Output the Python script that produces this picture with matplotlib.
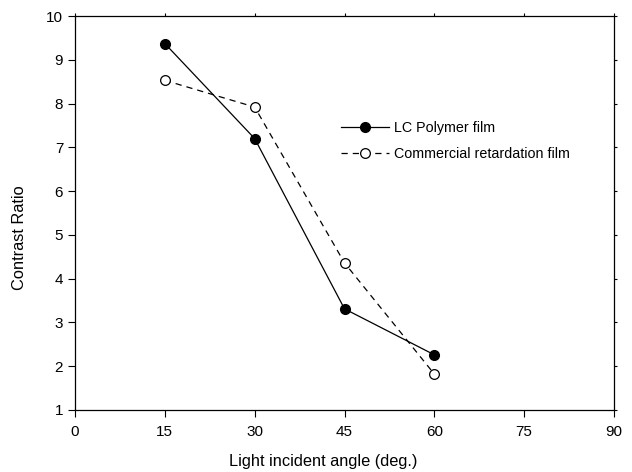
import matplotlib.pyplot as plt

plt.rcParams['font.family'] = ['Liberation Sans', 'DejaVu Sans']

angles = [15, 30, 45, 60]
lc_polymer = [9.37, 7.2, 3.31, 2.26]
commercial = [8.53, 7.92, 4.36, 1.82]

fig = plt.figure(figsize=(6.32, 4.72), dpi=100)
ax = fig.add_axes([0.1187, 0.1314, 0.8528, 0.8347])

ax.plot(angles, lc_polymer, color='black', linestyle='-', linewidth=0.9,
        marker='o', markersize=7, markerfacecolor='black', markeredgecolor='black',
        label='LC Polymer film')
ax.plot(angles, commercial, color='black', linestyle=(0, (5, 4)), linewidth=0.9,
        marker='o', markersize=7, markerfacecolor='white', markeredgecolor='black',
        markeredgewidth=0.9, label='Commercial retardation film')

ax.set_xlim(0, 90)
ax.set_ylim(1, 10)
ax.set_xticks(range(0, 91, 15))
ax.set_yticks(range(1, 11))
ax.tick_params(axis='both', labelsize=11, direction='out', length=5, width=0.8)
ax.tick_params(top=True, right=True, labeltop=False, labelright=False)
ax.xaxis.set_tick_params(which='major', pad=6)
for t in ax.xaxis.get_ticklines()[1::2]:
    t.set_markersize(2)
for t in ax.yaxis.get_ticklines()[1::2]:
    t.set_markersize(2)

for s in ax.spines.values():
    s.set_linewidth(0.9)

ax.set_xlabel('Light incident angle (deg.)', fontsize=11.8)
ax.xaxis.set_label_coords(0.46, -0.113)
ax.set_ylabel('Contrast Ratio', fontsize=11.8)
ax.yaxis.set_label_coords(-0.09, 0.437)

ax.legend(loc='upper left', bbox_to_anchor=(0.47, 0.767), frameon=False,
          fontsize=10.3, handlelength=3.36, handletextpad=0.35, labelspacing=0.86)

fig.savefig('out.png', dpi=100)
